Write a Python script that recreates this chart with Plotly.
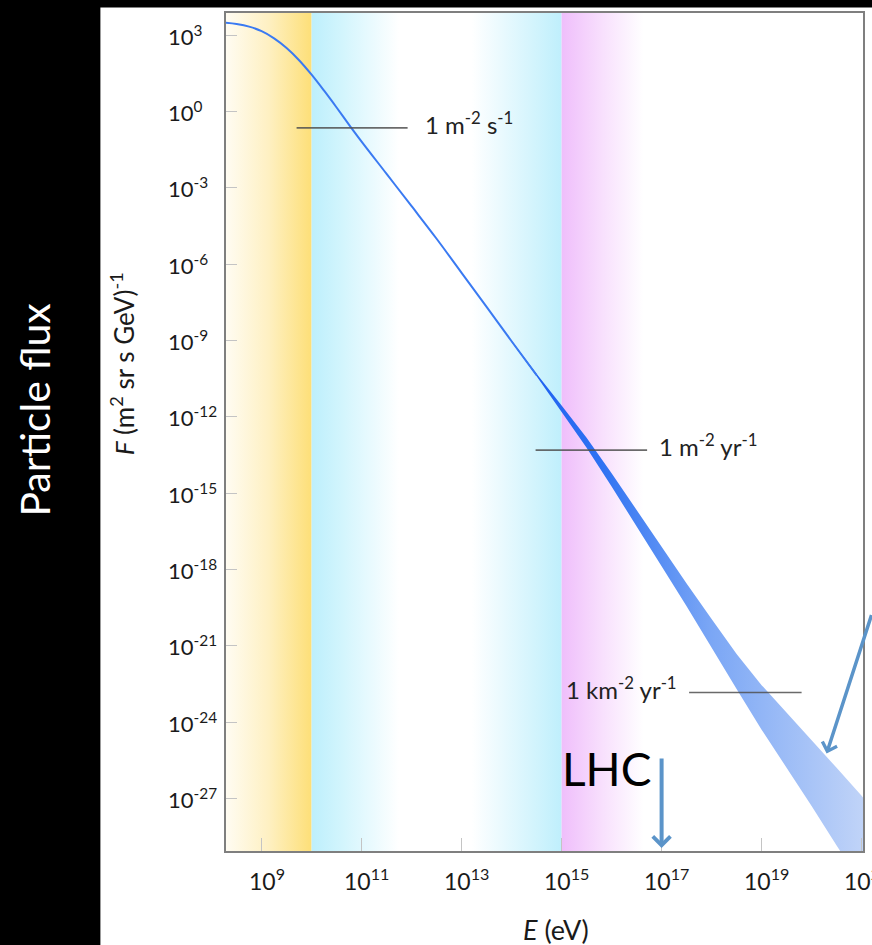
import plotly.graph_objects as go

# ---------------- data (log10 values) ----------------
# thin spectrum line: log10(E/eV) and log10(F)
line_log_e = [8.28, 8.5, 8.75, 9.0, 9.25, 9.5, 9.75, 10.0, 10.25, 10.5, 10.75,
              11.0, 11.5, 12.0, 12.5, 13.0, 13.5, 14.0, 14.5]
line_log_f = [3.49, 3.44, 3.34, 3.16, 2.88, 2.50, 2.02, 1.45, 0.82, 0.16, -0.52,
              -1.18, -2.45, -3.72, -5.00, -6.34, -7.68, -9.03, -10.36]

# uncertainty band at high energy
band_log_e = [14.0, 14.5, 15.0, 15.5, 16.0, 16.5, 17.0, 17.5, 18.0, 18.5,
              19.0, 19.5, 20.0, 20.5, 21.0, 21.2]
band_log_f_upper = [-9.00, -10.31, -11.56, -12.82, -14.22, -15.68, -17.12, -18.55,
                    -19.95, -21.33, -22.55, -23.62, -24.70, -25.80, -26.90, -27.35]
band_log_f_lower = [-9.06, -10.41, -11.80, -13.22, -14.74, -16.30, -17.88, -19.45,
                    -21.05, -22.70, -24.30, -25.80, -27.30, -28.85, -30.40, -31.00]

# reference flux levels
ref_labels = ["1 m<sup>-2</sup> s<sup>-1</sup>",
              "1 m<sup>-2</sup> yr<sup>-1</sup>",
              "1 km<sup>-2</sup> yr<sup>-1</sup>"]
ref_log_f = [-0.64, -13.31, -22.84]
ref_log_e_start = [9.70, 14.48, 17.55]
ref_log_e_end = [11.92, 16.71, 19.80]
ref_label_log_e = [12.22, 16.90, 17.34]
ref_label_side = ["left", "left", "right"]

# background energy bands (log10 E)
bg_band_lo = [8.288, 10.0, 15.0]
bg_band_hi = [10.0, 15.0, 16.64]
bg_band_scales = [
    [[0, "#fffcf2"], [0.5, "#fef0c2"], [1, "#fddf78"]],
    [[0, "#bdeffc"], [0.12, "#d2f5fd"], [0.35, "#ffffff"], [0.64, "#ffffff"], [1, "#bfeffc"]],
    [[0, "#efbefb"], [0.5, "#f8e0fd"], [1, "#ffffff"]],
]

# axis ticks
x_tick_exp = [9, 11, 13, 15, 17, 19, 21]
y_tick_exp = [3, 0, -3, -6, -9, -12, -15, -18, -21, -24, -27]

# annotation arrows
lhc_log_e = 17.0
uhe_arrow_log_e = 20.30
uhe_arrow_log_f = -25.24

# ---------------- layout geometry ----------------
W, H = 872, 945
ML, MR, MT, MB = 226, 7, 13, 94
X_RANGE = [8.288, 21.028]
Y_RANGE = [-29.071, 3.876]
FONT = "Lato, 'Noto Sans', sans-serif"


def p10(v):
    return 10.0 ** v


def px_x(p):
    return (p - ML) / (W - ML - MR)


def px_y(p):
    return (H - MB - p) / (H - MT - MB)


fig = go.Figure()

# background gradient bands
y_lo, y_hi = p10(Y_RANGE[0] - 1), p10(Y_RANGE[1] + 1)
for lo, hi, cs in zip(bg_band_lo, bg_band_hi, bg_band_scales):
    fig.add_trace(go.Scatter(
        x=[p10(lo), p10(hi), p10(hi), p10(lo), p10(lo)],
        y=[y_lo, y_lo, y_hi, y_hi, y_lo],
        mode="lines", line=dict(width=0), fill="toself",
        fillgradient=dict(type="horizontal", colorscale=cs),
        hoverinfo="skip", showlegend=False))

# band
bx = [p10(v) for v in band_log_e] + [p10(v) for v in band_log_e[::-1]]
by = [p10(v) for v in band_log_f_upper] + [p10(v) for v in band_log_f_lower[::-1]]
fig.add_trace(go.Scatter(
    x=bx, y=by, mode="lines", line=dict(width=0), fill="toself",
    fillgradient=dict(type="horizontal",
                      colorscale=[[0, "#1a5cf0"], [0.25, "#2f72f2"], [0.55, "#7aa6f5"], [1, "#c4d6f8"]]),
    hoverinfo="skip", showlegend=False))

# thin line
fig.add_trace(go.Scatter(
    x=[p10(v) for v in line_log_e], y=[p10(v) for v in line_log_f],
    mode="lines", line=dict(color="#3a7af2", width=2, shape="spline"),
    hoverinfo="skip", showlegend=False))

# reference lines
for f, e0, e1 in zip(ref_log_f, ref_log_e_start, ref_log_e_end):
    fig.add_trace(go.Scatter(
        x=[p10(e0), p10(e1)], y=[p10(f), p10(f)], mode="lines",
        line=dict(color="rgba(80,80,80,0.85)", width=1.6),
        hoverinfo="skip", showlegend=False))

annotations = []
for lab, f, e, side in zip(ref_labels, ref_log_f, ref_label_log_e, ref_label_side):
    annotations.append(dict(x=e, y=f, xref="x", yref="y", text=lab, showarrow=False,
                            xanchor=side, yanchor="middle", yshift=5,
                            font=dict(family=FONT, size=24, color="#222222")))

# tick labels
for e in y_tick_exp:
    annotations.append(dict(x=px_x(166), y=e, xref="paper", yref="y",
                            text=f"10<sup>{e}</sup>", showarrow=False,
                            xanchor="left", yanchor="middle",
                            font=dict(family=FONT, size=22, color="#1a1a1a")))
for e in x_tick_exp:
    annotations.append(dict(x=e, y=px_y(879), xref="x", yref="paper",
                            text=f"10<sup>{e}</sup>", showarrow=False,
                            xanchor="center", yanchor="middle", xshift=5,
                            font=dict(family=FONT, size=23, color="#1a1a1a")))

# axis titles
annotations.append(dict(x=px_x(557), y=px_y(929), xref="paper", yref="paper",
                        text="<i>E</i> (eV)", showarrow=False,
                        xanchor="center", yanchor="middle",
                        font=dict(family=FONT, size=27, color="#1a1a1a")))
annotations.append(dict(x=px_x(122), y=px_y(364), xref="paper", yref="paper",
                        text="<i>F</i> (m<sup>2</sup> sr s GeV)<sup>-1</sup>",
                        textangle=-90, showarrow=False,
                        xanchor="center", yanchor="middle",
                        font=dict(family=FONT, size=26, color="#1a1a1a")))
annotations.append(dict(x=px_x(33), y=px_y(410), xref="paper", yref="paper",
                        text="Particle flux", textangle=-90, showarrow=False,
                        xanchor="center", yanchor="middle",
                        font=dict(family=FONT, size=41, color="#ffffff")))

# LHC label and arrows
annotations.append(dict(x=px_x(608), y=px_y(768), xref="paper", yref="paper",
                        text="LHC", showarrow=False,
                        xanchor="center", yanchor="middle",
                        font=dict(family=FONT, size=46, color="#000000")))
annotations.append(dict(x=lhc_log_e, y=Y_RANGE[0] + 0.12, xref="x", yref="y",
                        text="", showarrow=True, ax=0, ay=-91,
                        arrowhead=4, arrowsize=0.85, arrowwidth=4, arrowcolor="#5b94c9"))
annotations.append(dict(x=uhe_arrow_log_e, y=uhe_arrow_log_f, xref="x", yref="y",
                        text="", showarrow=True, ax=48, ay=-140,
                        arrowhead=4, arrowsize=0.85, arrowwidth=3.5, arrowcolor="#5b94c9"))

shapes = [
    dict(type="rect", xref="paper", yref="paper", x0=px_x(-5), x1=px_x(100),
         y0=px_y(H + 5), y1=px_y(-5), fillcolor="#000000", line=dict(width=0), layer="below"),
    dict(type="rect", xref="paper", yref="paper", x0=px_x(-5), x1=px_x(W + 5),
         y0=px_y(7.5), y1=px_y(-5), fillcolor="#000000", line=dict(width=0), layer="below"),
]

fig.update_layout(
    width=W, height=H,
    margin=dict(l=ML, r=MR, t=MT, b=MB, pad=0),
    paper_bgcolor="#ffffff", plot_bgcolor="#ffffff",
    showlegend=False,
    annotations=annotations, shapes=shapes,
    xaxis=dict(type="log", range=X_RANGE, tickvals=[p10(e) for e in x_tick_exp],
               showticklabels=False, ticks="inside", ticklen=13, tickcolor="#c4c4c4",
               tickwidth=1, showgrid=False, zeroline=False,
               showline=True, linecolor="#7f7f7f", linewidth=2, mirror=True),
    yaxis=dict(type="log", range=Y_RANGE, tickvals=[p10(e) for e in y_tick_exp],
               showticklabels=False, ticks="inside", ticklen=11, tickcolor="#c4c4c4",
               tickwidth=1, showgrid=False, zeroline=False,
               showline=True, linecolor="#7f7f7f", linewidth=2, mirror=True),
)

fig.write_html("out.html", config={"displayModeBar": False},
               post_script="document.body.style.margin='0';document.body.style.overflow='hidden';")
